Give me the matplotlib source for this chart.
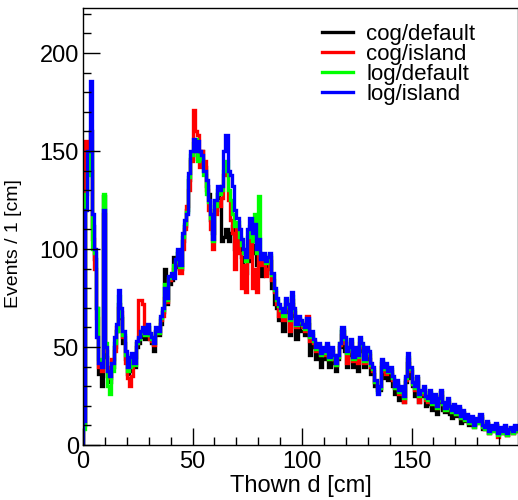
import matplotlib
matplotlib.use("Agg")
import matplotlib.pyplot as plt
import numpy as np
from matplotlib.ticker import MultipleLocator

plt.rcParams['font.family'] = ['Liberation Sans', 'DejaVu Sans']

# bin edges: 1 cm bins from 0 to 200
edges = np.arange(0, 201, 1)

blue_counts = [
    12, 120, 150, 186, 118, 100, 55, 42, 40, 120,
    50, 38, 35, 42, 55, 62, 79, 70, 58, 48,
    40, 45, 47, 42, 53, 55, 58, 60, 57, 62,
    57, 55, 52, 60, 58, 66, 70, 80, 75, 86,
    88, 85, 95, 100, 92, 108, 115, 118, 139, 150,
    156, 150, 155, 150, 148, 140, 135, 125, 118, 105,
    125, 132, 130, 132, 150, 158, 140, 138, 132, 120,
    116, 110, 105, 100, 96, 110, 116, 108, 113, 100,
    105, 95, 98, 94, 96, 98, 88, 80, 75, 72,
    70, 68, 75, 72, 65, 78, 70, 62, 66, 64,
    62, 60, 65, 56, 58, 54, 50, 52, 47, 50,
    48, 52, 45, 50, 46, 42, 46, 52, 60, 55,
    48, 50, 54, 45, 50, 46, 55, 52, 44, 50,
    48, 42, 40, 33, 26, 30, 44, 40, 42, 38,
    40, 35, 30, 33, 28, 30, 25, 35, 47, 40,
    32, 30, 35, 26, 28, 30, 25, 24, 28, 22,
    26, 20, 24, 28, 22, 19, 24, 20, 18, 21,
    17, 20, 15, 18, 14, 16, 12, 15, 10, 14,
    12, 16, 10, 9, 12, 7, 10, 8, 11, 6,
    9, 7, 10, 6, 8, 9, 7, 10, 8, 9,
]

black_counts = [
    10, 130, 145, 160, 112, 95, 70, 36, 30, 127,
    45, 35, 32, 40, 50, 58, 72, 65, 52, 44,
    36, 38, 44, 40, 50, 52, 55, 58, 54, 60,
    55, 52, 48, 57, 56, 62, 68, 90, 72, 82,
    84, 96, 91, 98, 90, 104, 112, 120, 135, 146,
    150, 152, 148, 146, 150, 142, 132, 128, 115, 108,
    120, 128, 126, 104, 106, 110, 104, 108, 112, 100,
    110, 102, 96, 90, 88, 94, 104, 102, 98, 92,
    98, 86, 94, 88, 92, 94, 80, 72, 70, 64,
    66, 58, 70, 68, 56, 72, 66, 54, 62, 58,
    58, 56, 62, 46, 54, 50, 44, 48, 40, 46,
    44, 48, 40, 46, 42, 38, 44, 50, 58, 48,
    40, 46, 50, 40, 46, 38, 50, 48, 40, 46,
    44, 36, 36, 30, 28, 28, 40, 34, 38, 33,
    36, 30, 26, 30, 23, 27, 22, 32, 42, 34,
    30, 25, 32, 22, 25, 27, 20, 21, 25, 18,
    24, 16, 22, 25, 18, 17, 21, 16, 14, 19,
    15, 17, 11, 16, 12, 14, 10, 13, 9, 12,
    11, 14, 8, 8, 11, 6, 9, 7, 10, 6,
    8, 6, 9, 5, 7, 8, 6, 9, 7, 8,
]

red_counts = [
    11, 155, 150, 140, 105, 90, 65, 40, 38, 118,
    48, 40, 34, 44, 48, 60, 70, 68, 55, 42,
    34, 30, 35, 45, 52, 74, 74, 72, 56, 58,
    54, 53, 51, 58, 57, 64, 66, 75, 73, 84,
    86, 90, 93, 96, 88, 100, 110, 122, 130, 145,
    171, 160, 158, 142, 150, 145, 130, 120, 110, 100,
    118, 124, 122, 126, 138, 140, 125, 115, 108, 90,
    112, 98, 80, 92, 78, 96, 106, 80, 90, 78,
    98, 92, 96, 86, 90, 96, 84, 78, 72, 66,
    68, 64, 72, 70, 58, 74, 68, 60, 64, 63,
    60, 58, 66, 53, 56, 52, 48, 50, 46, 48,
    46, 50, 44, 48, 44, 41, 45, 51, 56, 52,
    42, 48, 52, 43, 48, 42, 52, 50, 42, 48,
    46, 40, 38, 32, 29, 29, 42, 38, 36, 37,
    38, 33, 29, 31, 26, 28, 22, 33, 44, 38,
    31, 28, 34, 22, 26, 28, 23, 22, 26, 21,
    25, 19, 23, 27, 21, 18, 22, 19, 17, 20,
    16, 19, 14, 17, 13, 15, 11, 14, 10, 13,
    12, 15, 9, 8, 11, 6, 9, 8, 10, 4,
    8, 6, 9, 5, 7, 8, 6, 9, 7, 8,
]

green_counts = [
    8, 128, 138, 150, 100, 98, 70, 44, 42, 128,
    52, 30, 26, 38, 52, 58, 76, 66, 56, 46,
    38, 40, 46, 41, 52, 54, 57, 59, 56, 61,
    56, 54, 52, 58, 57, 65, 69, 82, 74, 85,
    87, 92, 94, 99, 91, 106, 113, 119, 137, 148,
    154, 156, 145, 148, 146, 138, 128, 124, 116, 104,
    122, 130, 128, 130, 140, 145, 130, 125, 118, 112,
    114, 106, 102, 98, 94, 106, 112, 104, 118, 98,
    127, 96, 97, 93, 94, 97, 87, 79, 74, 71,
    69, 66, 74, 71, 64, 76, 69, 61, 65, 63,
    61, 59, 64, 55, 57, 53, 49, 51, 46, 49,
    47, 51, 44, 49, 45, 41, 45, 52, 59, 54,
    47, 49, 53, 44, 49, 45, 54, 51, 43, 49,
    47, 41, 39, 32, 27, 29, 43, 39, 41, 37,
    39, 34, 29, 32, 27, 29, 24, 34, 45, 39,
    31, 29, 34, 25, 27, 29, 24, 23, 27, 21,
    25, 19, 23, 27, 21, 18, 23, 19, 17, 20,
    16, 19, 14, 17, 13, 15, 11, 14, 9, 13,
    11, 15, 9, 8, 11, 6, 9, 7, 10, 5,
    8, 6, 9, 5, 7, 8, 6, 9, 7, 8,
]

series = [
    ("cog/default", black_counts, "black"),
    ("cog/island", red_counts, "#ff0000"),
    ("log/default", green_counts, "#00ff00"),
    ("log/island", blue_counts, "#0000ff"),
]

fig = plt.figure(figsize=(5.18, 5.00), dpi=100)
ax = fig.add_axes([83 / 518, 55 / 500, 1 - 83 / 518, (445 - 8) / 500])

for label, counts, color in series:
    ax.stairs(counts, edges, color=color, linewidth=2.4, label=label)

ax.set_xlim(0, 198.6)
ax.set_ylim(0, 223)
ax.xaxis.set_major_locator(MultipleLocator(50))
ax.xaxis.set_minor_locator(MultipleLocator(10))
ax.yaxis.set_major_locator(MultipleLocator(50))
ax.yaxis.set_minor_locator(MultipleLocator(10))
ax.tick_params(which="both", direction="in", top=False, right=False, labelsize=17, width=1)
ax.tick_params(which="major", length=12)
ax.tick_params(which="minor", length=6)
ax.tick_params(axis="x", pad=4)
ax.tick_params(axis="y", pad=3)
for sp in ax.spines.values():
    sp.set_linewidth(1)

ax.set_xlabel("Thown d [cm]", fontsize=17, labelpad=2)
ax.set_ylabel("Events / 1 [cm]", fontsize=14)
ax.yaxis.set_label_coords(-0.14, 0.46)

fig.legend(loc="upper left", bbox_to_anchor=(322 / 518, 1 - 24 / 500), frameon=False,
           fontsize=16, handlelength=1.4, handletextpad=0.6, labelspacing=-0.05,
           borderaxespad=0, borderpad=0)

fig.savefig("out.png", dpi=100)
